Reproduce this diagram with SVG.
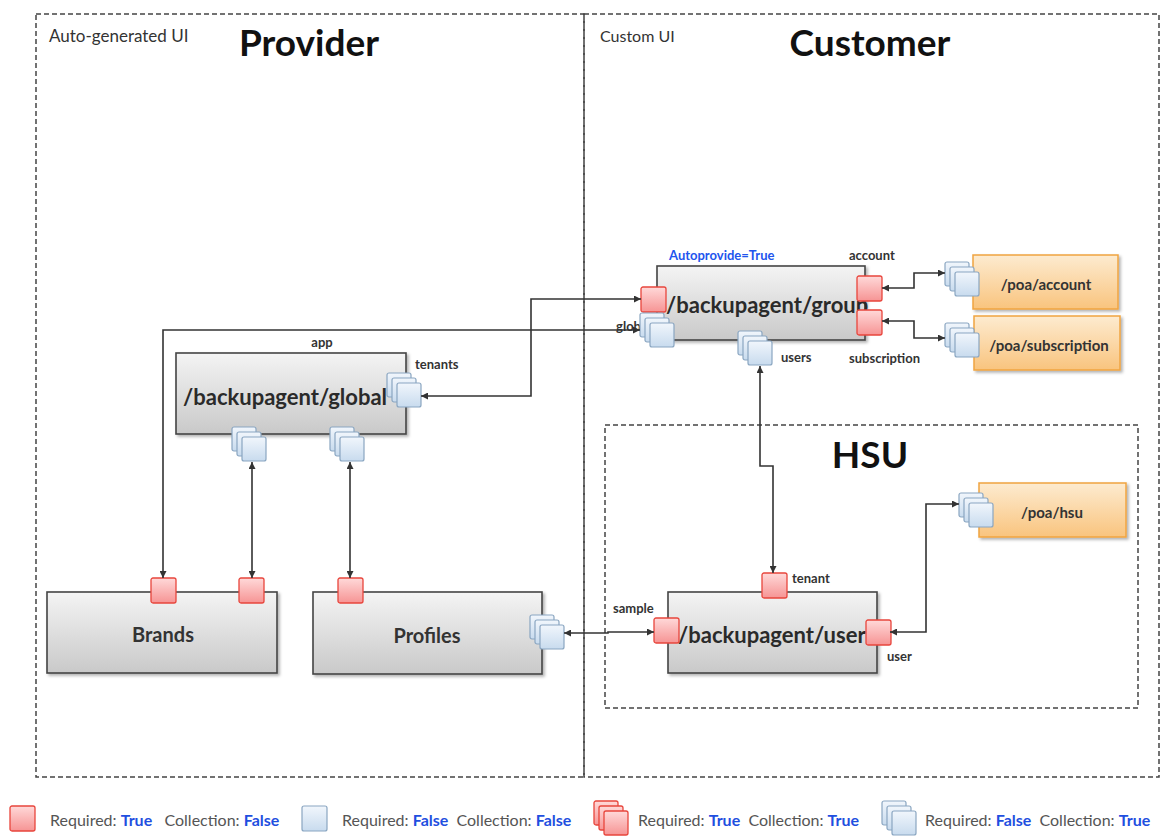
<svg xmlns="http://www.w3.org/2000/svg" xmlns:xlink="http://www.w3.org/1999/xlink" width="1169" height="837" viewBox="0 0 1169 837">
<style>
text{font-family:Lato,"Open Sans","Liberation Sans",sans-serif;}
.frame{fill:none;stroke:#444;stroke-width:1.5;stroke-dasharray:5 3;}
.node{fill:url(#gGray);stroke:#444;stroke-width:1.6;filter:url(#sh);}
.poa{fill:url(#gOrange);stroke:#f0a440;stroke-width:1.5;filter:url(#sh);}
.red{fill:url(#gRed);stroke:#e8453c;stroke-width:1.3;}
.blue{fill:url(#gBlue);stroke:#8aa6c1;stroke-width:1.2;}
.title{font-size:37px;font-weight:bold;fill:#111;}
.sub{font-size:17px;fill:#333;}
.nlabel{font-size:22px;font-weight:bold;fill:#2a2a2a;}
.plabel{font-size:20px;font-weight:bold;fill:#333;text-anchor:middle;}
.olabel{font-size:15px;font-weight:bold;fill:#333;text-anchor:middle;}
.port{font-size:13px;font-weight:bold;fill:#333;}
.leg{font-size:16px;fill:#555;white-space:pre;}
.legv{font-weight:bold;fill:#1f4fe0;}
.conn{fill:none;stroke:#333;stroke-width:1.6;marker-start:url(#arr);marker-end:url(#arr);}
</style>
<defs>
<linearGradient id="gGray" x1="0" y1="0" x2="0" y2="1"><stop offset="0" stop-color="#f4f4f4"/><stop offset="1" stop-color="#c9c9c9"/></linearGradient>
<linearGradient id="gOrange" x1="0" y1="0" x2="0" y2="1"><stop offset="0" stop-color="#fdebd0"/><stop offset="1" stop-color="#f9c47e"/></linearGradient>
<linearGradient id="gRed" x1="0" y1="0" x2="0" y2="1"><stop offset="0" stop-color="#ffd9d9"/><stop offset="1" stop-color="#f69494"/></linearGradient>
<linearGradient id="gBlue" x1="0" y1="0" x2="0" y2="1"><stop offset="0" stop-color="#f1f6fc"/><stop offset="1" stop-color="#c8dbee"/></linearGradient>
<filter id="sh" x="-10%" y="-10%" width="125%" height="130%"><feDropShadow dx="2" dy="2" stdDeviation="1.5" flood-color="#000" flood-opacity="0.3"/></filter>
<marker id="arr" viewBox="0 0 10 10" refX="10" refY="5" markerWidth="7" markerHeight="7" markerUnits="userSpaceOnUse" orient="auto-start-reverse"><path d="M0,0 L10,5 L0,10 z" fill="#333"/></marker>
<g id="stackB"><rect class="blue" x="0" y="0" width="24" height="24" rx="2"/><rect class="blue" x="5" y="5" width="24" height="24" rx="2"/><rect class="blue" x="10" y="10" width="24" height="24" rx="2"/></g>
<g id="stackR"><rect class="red" x="0" y="0" width="24" height="24" rx="2"/><rect class="red" x="5" y="5" width="24" height="24" rx="2"/><rect class="red" x="10" y="10" width="24" height="24" rx="2"/></g>
<rect id="redP" class="red" x="0" y="0" width="25" height="25" rx="2"/>
</defs>
<rect width="1169" height="837" fill="#fff"/>

<g id="frames">
<rect class="frame" x="36" y="14" width="548" height="763"/>
<rect class="frame" x="584" y="14" width="575" height="763"/>
<rect class="frame" x="605" y="425" width="533" height="283"/>
<text class="sub" x="49" y="42">Auto-generated UI</text>
<text class="title" x="309" y="56" text-anchor="middle">Provider</text>
<text class="sub" x="600" y="42" style="font-size:16px">Custom UI</text>
<text class="title" x="870" y="56" text-anchor="middle">Customer</text>
<text class="title" x="870" y="468" text-anchor="middle">HSU</text>
</g>

<g id="node-group">
<text class="port" x="669" y="260" style="fill:#2255ee">Autoprovide=True</text>
<rect class="node" x="657" y="266" width="208" height="74"/>
<text class="nlabel" x="666" y="313">/backupagent/group</text>
<use xlink:href="#redP" x="641" y="287"/>
<text class="port" x="641" y="331" text-anchor="end">glob</text>
<use xlink:href="#stackB" x="640" y="313"/>
<use xlink:href="#redP" x="857" y="276"/>
<use xlink:href="#redP" x="857" y="310"/>
<text class="port" x="849" y="260">account</text>
<text class="port" x="849" y="363">subscription</text>
<use xlink:href="#stackB" x="738" y="331"/>
<text class="port" x="781" y="362">users</text>
</g>

<g id="node-poa-account">
<rect class="poa" x="973" y="255" width="145" height="54"/>
<text class="olabel" x="1046" y="290">/poa/account</text>
<use xlink:href="#stackB" x="945" y="262"/>
</g>

<g id="node-poa-subscription">
<rect class="poa" x="974" y="316" width="146" height="54"/>
<text class="olabel" x="1049" y="351">/poa/subscription</text>
<use xlink:href="#stackB" x="945" y="323"/>
</g>

<g id="node-global">
<rect class="node" x="176" y="353" width="230" height="81"/>
<text class="nlabel" x="183" y="405">/backupagent/global</text>
<text class="port" x="322" y="347" text-anchor="middle">app</text>
<text class="port" x="415" y="369">tenants</text>
<use xlink:href="#stackB" x="387" y="373"/>
<use xlink:href="#stackB" x="232" y="427"/>
<use xlink:href="#stackB" x="330" y="427"/>
</g>

<g id="node-brands">
<rect class="node" x="47" y="592" width="230" height="81"/>
<text class="plabel" x="163" y="642">Brands</text>
<use xlink:href="#redP" x="151" y="578"/>
<use xlink:href="#redP" x="239" y="578"/>
</g>

<g id="node-profiles">
<rect class="node" x="313" y="592" width="229" height="82"/>
<text class="plabel" x="427" y="643">Profiles</text>
<use xlink:href="#redP" x="338" y="578"/>
<use xlink:href="#stackB" x="530" y="615"/>
</g>

<g id="node-user">
<rect class="node" x="668" y="592" width="209" height="81"/>
<text class="nlabel" x="678" y="643">/backupagent/user</text>
<use xlink:href="#redP" x="762" y="573"/>
<text class="port" x="792" y="583">tenant</text>
<use xlink:href="#redP" x="654" y="618"/>
<text class="port" x="613" y="613">sample</text>
<use xlink:href="#redP" x="866" y="620"/>
<text class="port" x="887" y="661">user</text>
</g>

<g id="node-poa-hsu">
<rect class="poa" x="979" y="483" width="147" height="54"/>
<text class="olabel" x="1052" y="518">/poa/hsu</text>
<use xlink:href="#stackB" x="959" y="493"/>
</g>

<g id="connectors">
<path class="conn" d="M421,396 H531 V299 H641"/>
<path class="conn" d="M163,578 V330 H640"/>
<path class="conn" d="M252,462 V578"/>
<path class="conn" d="M350,462 V578"/>
<path class="conn" d="M760,366 V466 H773 V573"/>
<path class="conn" d="M564,633 H608 V632 H654"/>
<path class="conn" d="M890,632 H926 V504 H959"/>
<path class="conn" d="M882,288 H914 V273 H945"/>
<path class="conn" d="M882,321 H914 V338 H945"/>
</g>

<g id="legend">
<use xlink:href="#redP" x="10" y="806"/>
<text class="leg" x="50" y="826">Required: <tspan class="legv">True</tspan>   Collection: <tspan class="legv">False</tspan></text>
<rect class="blue" x="302" y="806" width="25" height="25" rx="2"/>
<text class="leg" x="342" y="826">Required: <tspan class="legv">False</tspan>  Collection: <tspan class="legv">False</tspan></text>
<use xlink:href="#stackR" x="594" y="801"/>
<text class="leg" x="638" y="826">Required: <tspan class="legv">True</tspan>  Collection: <tspan class="legv">True</tspan></text>
<use xlink:href="#stackB" x="882" y="801"/>
<text class="leg" x="925" y="826">Required: <tspan class="legv">False</tspan>  Collection: <tspan class="legv">True</tspan></text>
</g>
</svg>
